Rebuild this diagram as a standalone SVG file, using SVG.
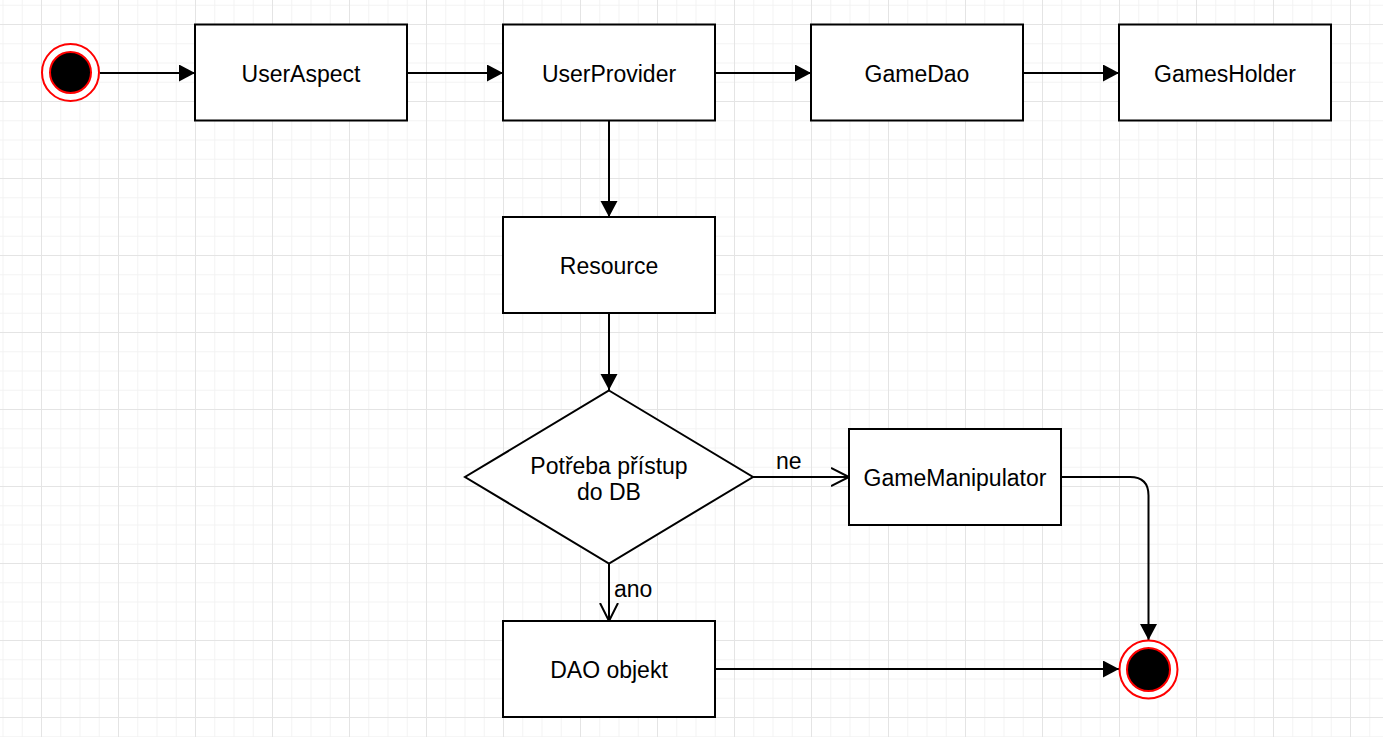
<svg xmlns="http://www.w3.org/2000/svg" width="1383" height="737" viewBox="0 0 1383 737">
<style>
.box{fill:#fff;stroke:#000;stroke-width:2}
.lbl{font-family:"Liberation Sans",Arial,sans-serif;font-size:23px;fill:#000;text-anchor:middle}
.elbl{font-family:"Liberation Sans",Arial,sans-serif;font-size:23px;fill:#000}
.edge{fill:none;stroke:#000;stroke-width:2}
</style>
<defs>
<pattern id="grid" patternUnits="userSpaceOnUse" x="41" y="24" width="77" height="77">
<rect x="0" y="0" width="77" height="77" fill="#fff"/>
<g fill="#f3f3f3">
<rect x="19.25" y="0" width="1" height="77"/>
<rect x="38.5" y="0" width="1" height="77"/>
<rect x="57.75" y="0" width="1" height="77"/>
<rect x="0" y="19.25" width="77" height="1"/>
<rect x="0" y="38.5" width="77" height="1"/>
<rect x="0" y="57.75" width="77" height="1"/>
</g>
<g fill="#e4e4e4">
<rect x="0" y="0" width="1" height="77"/>
<rect x="0" y="0" width="77" height="1"/>
</g>
</pattern>
<marker id="block" markerUnits="userSpaceOnUse" markerWidth="18" markerHeight="18" refX="16" refY="8.5" orient="auto">
<path d="M0,0 L16,8.5 L0,17 Z" fill="#000"/>
</marker>
<marker id="open" markerUnits="userSpaceOnUse" markerWidth="22" markerHeight="22" refX="18" refY="10" orient="auto">
<path d="M0,1 L18,10 L0,19" fill="none" stroke="#000" stroke-width="2"/>
</marker>
</defs>
<rect x="0" y="0" width="1383" height="737" fill="url(#grid)"/>

<g id="connectors">
<line class="edge" x1="100" y1="73" x2="195" y2="73" marker-end="url(#block)"/>
<line class="edge" x1="408" y1="73" x2="503" y2="73" marker-end="url(#block)"/>
<line class="edge" x1="716" y1="73" x2="811" y2="73" marker-end="url(#block)"/>
<line class="edge" x1="1024" y1="73" x2="1119" y2="73" marker-end="url(#block)"/>
<line class="edge" x1="609" y1="121" x2="609" y2="217" marker-end="url(#block)"/>
<line class="edge" x1="609" y1="314" x2="609" y2="390" marker-end="url(#block)"/>
<line class="edge" x1="753" y1="477" x2="849" y2="477" marker-end="url(#open)"/>
<text class="elbl" x="776" y="469">ne</text>
<line class="edge" x1="609" y1="563" x2="609" y2="621" marker-end="url(#open)"/>
<text class="elbl" x="614" y="597">ano</text>
<path class="edge" d="M1062,477 L1130,477 Q1148.5,477 1148.5,495.5 L1148.5,640" marker-end="url(#block)"/>
<line class="edge" x1="716" y1="669" x2="1119" y2="669" marker-end="url(#block)"/>
</g>

<g id="start">
<circle cx="70.5" cy="72.5" r="28.5" fill="#fff" stroke="#f00" stroke-width="2"/>
<circle cx="70.5" cy="72.5" r="20.5" fill="#000" stroke="#f00" stroke-width="2"/>
</g>
<g id="UserAspect">
<rect class="box" x="195" y="24.5" width="212" height="96"/>
<text class="lbl" x="301" y="81.5">UserAspect</text>
</g>
<g id="UserProvider">
<rect class="box" x="503" y="24.5" width="212" height="96"/>
<text class="lbl" x="609" y="81.5">UserProvider</text>
</g>
<g id="GameDao">
<rect class="box" x="811" y="24.5" width="212" height="96"/>
<text class="lbl" x="917" y="81.5">GameDao</text>
</g>
<g id="GamesHolder">
<rect class="box" x="1119" y="24.5" width="212" height="96"/>
<text class="lbl" x="1225" y="81.5">GamesHolder</text>
</g>
<g id="Resource">
<rect class="box" x="503" y="217" width="212" height="96"/>
<text class="lbl" x="609" y="274">Resource</text>
</g>
<g id="decision">
<polygon points="609,390.5 753,477 609,563.5 465,477" fill="#fff" stroke="#000" stroke-width="2"/>
<text class="lbl" x="609" y="474">Potřeba přístup</text>
<text class="lbl" x="609" y="500">do DB</text>
</g>
<g id="GameManipulator">
<rect class="box" x="849" y="429" width="212" height="96"/>
<text class="lbl" x="955" y="486">GameManipulator</text>
</g>
<g id="DAOobjekt">
<rect class="box" x="503" y="621" width="212" height="96"/>
<text class="lbl" x="609" y="678">DAO objekt</text>
</g>
<g id="end">
<circle cx="1148.5" cy="669.5" r="29" fill="#fff" stroke="#f00" stroke-width="2"/>
<circle cx="1148.5" cy="669.5" r="21.5" fill="#000" stroke="#f00" stroke-width="2"/>
</g>
</svg>
